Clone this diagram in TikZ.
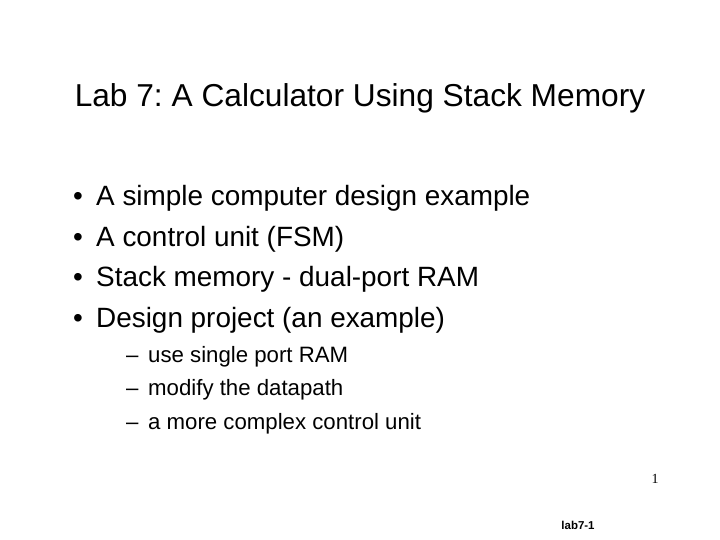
\documentclass[tikz,border=0pt]{standalone}
\usepackage{fontspec}
\setmainfont{Liberation Sans}
\frenchspacing
\begin{document}
\begin{tikzpicture}[x=1bp,y=-1bp,
  tt/.style={anchor=base west,inner sep=0pt,font=\fontsize{28}{32}\selectfont},
  st/.style={anchor=base west,inner sep=0pt,font=\fontsize{22.3}{26}\selectfont}]
\useasboundingbox (0,0) rectangle (720,540);
\node[anchor=base,inner sep=0pt,font=\fontsize{31.8}{36}\selectfont] (title) at (360,107) {Lab 7: A Calculator Using Stack Memory};
\node[tt] (b1) at (73,206) {•};\node[tt] (t1) at (96,206) {A simple computer design example};
\node[tt] (b2) at (73,247) {•};\node[tt] (t2) at (96,247) {A control unit (FSM)};
\node[tt] (b3) at (73,287) {•};\node[tt] (t3) at (96,287) {Stack memory - dual-port RAM};
\node[tt] (b4) at (73,327) {•};\node[tt] (t4) at (96,327) {Design project (an example)};
\node[st] (d1) at (126,362) {–};\node[st] (s1) at (148,362) {use single port RAM};
\node[st] (d2) at (126,395) {–};\node[st] (s2) at (148,395) {modify the datapath};
\node[st] (d3) at (126,429) {–};\node[st] (s3) at (148,429) {a more complex control unit};
\node[anchor=base,inner sep=0pt,font=\fontspec{Liberation Serif}\fontsize{14}{16}\selectfont] (pg) at (655,483) {1};
\node[anchor=base,inner sep=0pt,font=\bfseries\fontsize{11.5}{13}\selectfont] (lab) at (578,529) {lab7-1};
\end{tikzpicture}
\end{document}
